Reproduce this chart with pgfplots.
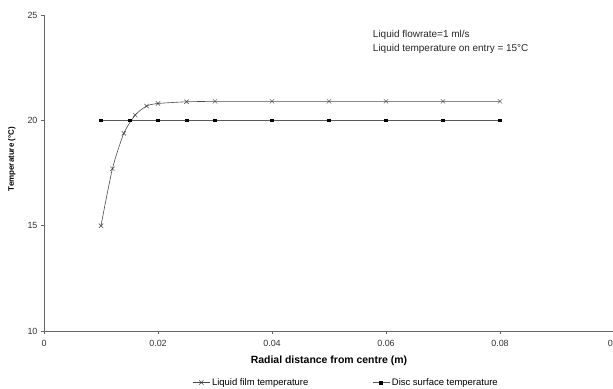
\documentclass[border=0pt]{standalone}
\usepackage{pgfplots}
\pgfplotsset{compat=1.18}
\usepackage{fontspec}
\setmainfont{Liberation Sans}
\begin{document}
\begin{tikzpicture}[x=1bp,y=1bp]
\begin{axis}[
  at={(0,0)}, anchor=origin,
  scale only axis, width=570bp, height=316bp,
  xmin=0, xmax=0.1, ymin=10, ymax=25,
  axis lines*=left,
  axis line style={gray!80!black, line width=0.6pt},
  xtick={0,0.02,0.04,0.06,0.08,0.1},
  xticklabels={0,0.02,0.04,0.06,0.08,0.1},
  ytick={10,15,20,25},
  tick style={gray!80!black, line width=0.5pt},
  tick align=outside, major tick length=3bp,
  ticklabel style={font=\fontsize{9}{10}\selectfont, text=black!80},
  xticklabel style={yshift=-3bp},
  /pgf/number format/assume math mode=true,
  xlabel={\textbf{Radial distance from centre (m)}},
  ylabel={\textbf{Temperature (\textdegree C)}},
  xlabel style={font=\fontsize{10.5}{12}\selectfont, at={(axis description cs:0.5,0)}, anchor=north, yshift=-21bp},
  ylabel style={font=\fontsize{8}{10}\selectfont, at={(axis description cs:0,0.544)}, anchor=south, yshift=25bp},
  legend style={at={(axis description cs:0.53,-0.163)}, anchor=center, draw=none,
    font=\fontsize{9.5}{11}\selectfont, legend columns=2,
    /tikz/every even column/.append style={column sep=62bp}},
  legend cell align=left,
  clip=false,
]
\addplot[gray!60!black, line width=0.6pt, smooth, tension=0.4,
  mark=x, mark size=3bp, mark options={gray!50!black, line width=0.5pt}]
  coordinates {
  (0.010,15.0) (0.012,17.7) (0.014,19.38) (0.016,20.25) (0.018,20.68)
  (0.020,20.8) (0.025,20.88) (0.030,20.9) (0.040,20.9) (0.050,20.9)
  (0.060,20.9) (0.070,20.9) (0.080,20.9)};
\addlegendentry{Liquid film temperature}
\addplot[gray!70!black, line width=0.6pt,
  mark=square*, mark size=1.4bp, mark options={black}]
  coordinates {
  (0.010,20.0) (0.015,20.0) (0.020,20.0) (0.025,20.0) (0.030,20.0)
  (0.040,20.0) (0.050,20.0) (0.060,20.0) (0.070,20.0) (0.080,20.0)};
\addlegendentry{Disc surface temperature}
\node[anchor=north west, align=left, font=\fontsize{10}{14.5}\selectfont, text=black!85]
  at (axis cs:0.0571,24.45) {Liquid flowrate=1 ml/s\\Liquid temperature on entry = 15\textdegree C};
\end{axis}
\pgfresetboundingbox
\path[use as bounding box] (-44bp,-58bp) rectangle (569bp,331bp);
\end{tikzpicture}
\end{document}
